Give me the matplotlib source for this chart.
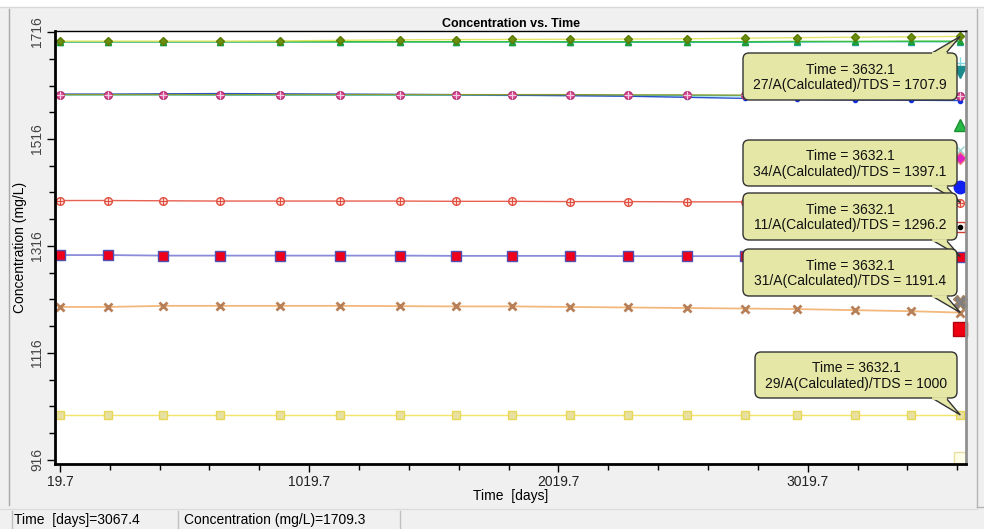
import matplotlib
matplotlib.use("Agg")
import matplotlib.pyplot as plt
from matplotlib.lines import Line2D
from matplotlib.patches import Rectangle, FancyBboxPatch, Polygon
from matplotlib.transforms import IdentityTransform
from matplotlib.ticker import FixedLocator, MultipleLocator

plt.rcParams['font.family'] = ['Liberation Sans', 'DejaVu Sans']

# sample times where the markers sit (days)
time_days = [19.7, 212, 433, 661, 902, 1143, 1383, 1608, 1832, 2065, 2297, 2534, 2767, 2975, 3208, 3436, 3632.1]

# TDS concentration series (mg/L)
tds_27 = [1699.0, 1699.0, 1699.0, 1699.0, 1699.5, 1700.5, 1701.5, 1702.0, 1702.3, 1702.5, 1703.0, 1703.5, 1704.5, 1705.5, 1706.5, 1707.2, 1707.9]
tds_green = [1698.0, 1698.0, 1698.0, 1698.0, 1698.0, 1698.0, 1698.0, 1698.0, 1698.0, 1698.0, 1698.0, 1698.0, 1698.0, 1698.5, 1698.5, 1699.0, 1699.0]
tds_teal = [1697.5, 1697.5, 1697.5, 1697.5, 1697.5, 1697.5, 1697.5, 1697.5, 1697.5, 1697.0, 1697.0, 1697.0, 1697.0, 1697.5, 1698.0, 1698.0, 1698.0]
tds_blue = [1600.0, 1600.0, 1600.5, 1601.0, 1600.5, 1600.0, 1599.5, 1599.0, 1598.0, 1597.0, 1596.0, 1594.0, 1592.0, 1590.0, 1589.0, 1588.5, 1588.0]
tds_cyan = [1598.5, 1598.5, 1598.5, 1598.0, 1598.0, 1598.0, 1598.0, 1598.0, 1597.5, 1597.5, 1597.5, 1597.0, 1597.0, 1597.0, 1596.5, 1596.5, 1596.0]
tds_pink = [1599.0, 1599.0, 1599.0, 1599.0, 1599.0, 1599.0, 1599.0, 1599.0, 1599.0, 1599.0, 1598.5, 1598.5, 1598.0, 1598.0, 1597.5, 1597.5, 1597.0]
tds_34 = [1401.0, 1401.0, 1400.5, 1400.0, 1400.0, 1400.0, 1400.0, 1399.5, 1399.5, 1399.0, 1399.0, 1398.5, 1398.5, 1398.0, 1397.5, 1397.5, 1397.1]
tds_11 = [1299.0, 1299.0, 1298.0, 1298.0, 1298.0, 1298.0, 1298.0, 1297.5, 1297.5, 1297.5, 1297.0, 1297.0, 1297.0, 1296.5, 1296.5, 1296.5, 1296.2]
tds_31 = [1202.0, 1202.0, 1204.0, 1204.0, 1204.0, 1204.0, 1203.5, 1203.0, 1203.0, 1202.0, 1201.0, 1200.0, 1199.0, 1198.0, 1196.0, 1194.0, 1191.4]
tds_29 = [1000.0, 1000.0, 1000.0, 1000.0, 1000.0, 1000.0, 1000.0, 1000.0, 1000.0, 1000.0, 1000.0, 1000.0, 1000.0, 1000.0, 1000.0, 1000.0, 1000.0]

# wells that only show a marker at the last time
end_values = [1659, 1641, 1543, 1496, 1481, 1427, 1352, 1212, 1161, 920]

# callouts
callout_wells = ["27/A", "34/A", "11/A", "31/A", "29/A"]
callout_series = [tds_27, tds_34, tds_11, tds_31, tds_29]

y_ticks = [916, 1116, 1316, 1516, 1716]
x_ticks = [19.7, 1019.7, 2019.7, 3019.7]

W, H = 984, 529
BUBBLE = '#e4e7a6'


def fx(x):
    return x / W


def fy(y):
    return 1 - y / H


fig = plt.figure(figsize=(9.84, 5.29), dpi=100, facecolor='#f0f0f0')

# window chrome
fig.add_artist(Rectangle((0, fy(7)), 1, 7 / H, transform=fig.transFigure, fc='white', ec='none'))
fig.add_artist(Line2D([0, 1], [fy(7), fy(7)], transform=fig.transFigure, color='#d8d8d8', lw=1))
fig.add_artist(Line2D([fx(9), fx(9)], [fy(9), fy(505)], transform=fig.transFigure, color='#a8a8a8', lw=1))
fig.add_artist(Line2D([fx(977), fx(977)], [fy(9), fy(507)], transform=fig.transFigure, color='#b4b4b4', lw=1))
fig.add_artist(Line2D([fx(977), 1], [fy(507), fy(507)], transform=fig.transFigure, color='#b4b4b4', lw=1))
fig.add_artist(Line2D([0, fx(977)], [fy(509), fy(509)], transform=fig.transFigure, color='#dcdcdc', lw=1))
for sx in [12, 178, 400]:
    fig.add_artist(Line2D([fx(sx), fx(sx)], [fy(511), 0], transform=fig.transFigure, color='#c0c0c0', lw=1))

ax = fig.add_axes([fx(55), fy(464), fx(966) - fx(55), (464 - 31) / H])
ax.set_facecolor('white')

# top group
ax.plot(time_days, tds_teal, color='#20b2b2', lw=1, marker='^', ms=5, mfc='#40c8c8', mec='#20a0a0')
ax.plot(time_days, tds_green, color='#3cc03c', lw=1, marker='^', ms=5, mfc='#1e9e3a', mec='#1e9e3a')
ax.plot(time_days, tds_27, color='#e4e46a', lw=1, marker='D', ms=4, mfc='#6b8e10', mec='#5a7a00')

# second group
ax.plot(time_days, tds_cyan, color='#40c8d8', lw=1)
ax.plot(time_days, tds_blue, color='#2850c8', lw=1, marker='o', ms=3, mfc='#1030e0', mec='#1030e0')
ax.plot(time_days, tds_pink, color='#8a9a30', lw=1, marker='o', ms=5.5, mfc='#e0509a', mec='#b03070')
ax.plot(time_days, tds_pink, ls='none', marker='+', ms=5.5, mec='#f0d0e0', mew=0.8)

# single lines
ax.plot(time_days, tds_34, color='#e86050', lw=1, marker='o', ms=5.5, mfc='#fbe0dc', mec='#e05040')
ax.plot(time_days, tds_34, ls='none', marker='+', ms=5.5, mec='#e05040', mew=0.8)
ax.plot(time_days, tds_11, color='#8c8cdc', lw=1.3, marker='s', ms=7, mfc='#ee001c', mec='#5050b0')
ax.plot(time_days, tds_31, color='#f2b87c', lw=1.3, marker='x', ms=6, mew=2, mec='#b88058')
ax.plot(time_days, tds_29, color='#f2e468', lw=1, marker='s', ms=5.5, mfc='#e8e0a0', mec='#e8d858')

# end-only markers
t_end = time_days[-1]
end_styles = [
    dict(marker='+', ms=9, mec='#80d8e0', mew=1),
    dict(marker='v', ms=9, mfc='#1a8a8a', mec='#1a8a8a'),
    dict(marker='^', ms=9, mfc='#28b848', mec='#1a9030'),
    dict(marker='x', ms=6, mec='#90d8d0', mew=1),
    dict(marker='D', ms=6, mfc='#e020c0', mec='#f08080'),
    dict(marker='o', ms=9, mfc='#1020f0', mec='#1020f0'),
    dict(marker='s', ms=7, mfc='white', mec='#d04030'),
    dict(marker='X', ms=10, mfc='#808080', mec='#a08060'),
    dict(marker='s', ms=10, mfc='#ee0010', mec='#b00010'),
    dict(marker='s', ms=9, mfc='#fdfde8', mec='#e8e0a0'),
]
for v, st in zip(end_values, end_styles):
    ax.plot([t_end], [v], ls='none', clip_on=False, **st)
ax.plot([t_end], [end_values[6]], ls='none', marker='o', ms=3, mfc='black', mec='black')

ax.set_xlim(0, 3655)
ax.set_ylim(908.3, 1718)

ax.xaxis.set_major_locator(FixedLocator(x_ticks))
ax.xaxis.set_minor_locator(FixedLocator([19.7 + 200 * k for k in range(19)]))
ax.set_xticklabels([f"{t:.1f}" for t in x_ticks])
ax.yaxis.set_major_locator(FixedLocator(y_ticks))
ax.yaxis.set_minor_locator(MultipleLocator(50, offset=16))
ax.set_yticklabels([str(t) for t in y_ticks], rotation=90, va='center')

ax.tick_params(which='major', direction='out', length=6, width=1, labelsize=10, colors='black', pad=2)
ax.tick_params(which='minor', direction='out', length=4, width=1)
ax.tick_params(axis='x', labelcolor='#222222')
ax.tick_params(axis='y', labelcolor='#444444')

for side in ['left', 'bottom']:
    ax.spines[side].set_linewidth(2)
ax.spines['top'].set_linewidth(1)
ax.spines['right'].set_linewidth(2)
ax.spines['right'].set_color('#909090')

ax.set_title("Concentration vs. Time", fontsize=9, fontweight='bold', pad=3)
ax.set_xlabel("Time  [days]", fontsize=10, labelpad=0)
ax.set_ylabel("Concentration (mg/L)", fontsize=10, labelpad=2)

# callout bubbles: box edges in pixels from the top-left (x0, x1, top, bottom)
bubble_boxes = [(743, 957, 53, 100), (743, 957, 140, 186), (743, 957, 193, 240), (743, 957, 249, 296), (755, 957, 352, 398)]
ident = IdentityTransform()
for i, (well, series, (x0, x1, top, bot)) in enumerate(zip(callout_wells, callout_series, bubble_boxes)):
    val = series[-1]
    px, py = ax.transData.transform((t_end, val))
    z = 10 + 3 * i
    fig.add_artist(FancyBboxPatch((x0, H - bot), x1 - x0, bot - top, boxstyle='round,pad=0,rounding_size=6',
                                  transform=ident, fc=BUBBLE, ec='#333333', lw=1, zorder=z))
    # tail leaves the top edge when the point is above the box, else the bottom edge
    edge = H - top if py > H - top else H - bot
    base_a, base_b = x1 - 25, x1 - 11
    fig.add_artist(Polygon([(base_a, edge), (px, py), (base_b, edge)], closed=False, transform=ident,
                           fc=BUBBLE, ec='#333333', lw=1, zorder=z + 1))
    fig.add_artist(Line2D([base_a + 1, base_b - 1], [edge, edge], transform=ident, color=BUBBLE, lw=2,
                          zorder=z + 1.5))
    fig.text((x0 + x1) / 2, H - (top + bot) / 2 - 1, f"Time = {t_end}\n{well}(Calculated)/TDS = {val:g}",
             transform=ident, ha='center', va='center', fontsize=10, color='#111111', linespacing=1.15,
             zorder=z + 2)

# status bar
fig.text(fx(14), fy(520), "Time  [days]=3067.4", fontsize=10, va='center', ha='left')
fig.text(fx(184), fy(520), "Concentration (mg/L)=1709.3", fontsize=10, va='center', ha='left')

fig.savefig("out.png", dpi=100, facecolor=fig.get_facecolor())
